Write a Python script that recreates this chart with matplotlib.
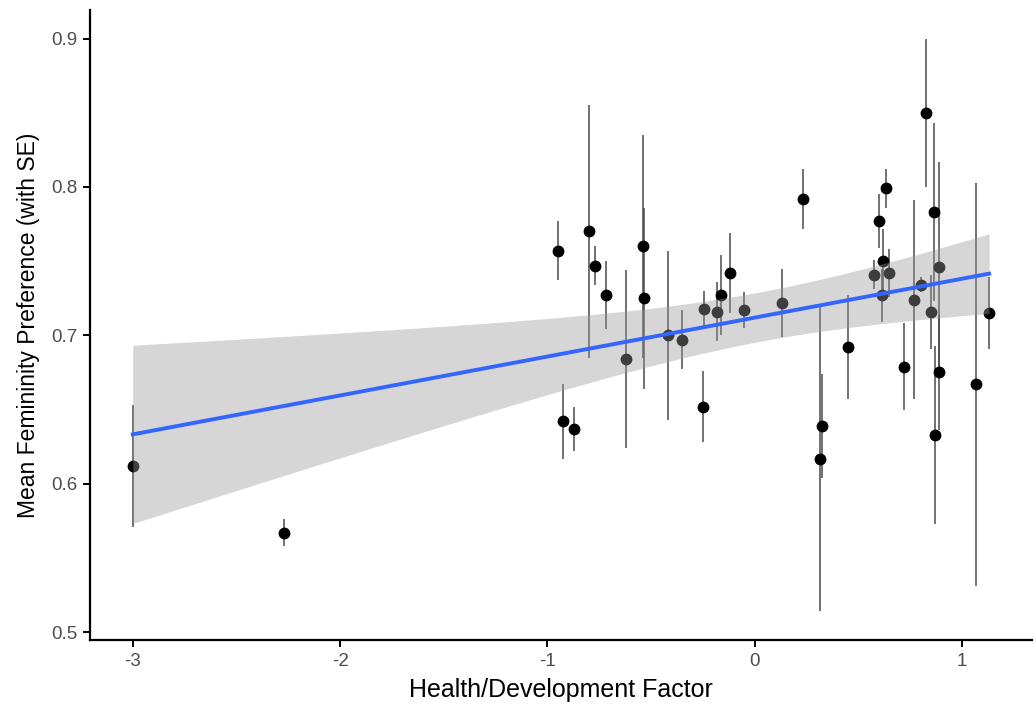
import matplotlib.pyplot as plt
import numpy as np

# health/development factor score per country
health = [-3.00, -2.27, -0.95, -0.80, -0.77, -0.72, -0.54, -0.535, -0.62, -0.42,
          -0.35, -0.925, -0.87, -0.25, -0.245, -0.18, -0.165, -0.12, -0.05, 0.13,
          0.23, 0.825, 0.635, 0.60, 0.62, 0.575, 0.645, 0.615, 0.865, 0.887,
          0.887, 0.77, 0.80, 0.85, 0.867, 1.065, 1.13, 0.45, 0.72, 0.325, 0.313]
# mean femininity preference
pref = [0.612, 0.567, 0.757, 0.770, 0.747, 0.727, 0.760, 0.725, 0.684, 0.700,
        0.697, 0.642, 0.637, 0.652, 0.718, 0.716, 0.727, 0.742, 0.717, 0.722,
        0.792, 0.850, 0.799, 0.777, 0.750, 0.741, 0.742, 0.727, 0.783, 0.746,
        0.675, 0.724, 0.734, 0.716, 0.633, 0.667, 0.715, 0.692, 0.679, 0.639, 0.617]
# standard errors
se = [0.041, 0.009, 0.020, 0.085, 0.013, 0.023, 0.075, 0.061, 0.060, 0.057,
      0.020, 0.025, 0.015, 0.024, 0.012, 0.020, 0.027, 0.027, 0.012, 0.023,
      0.020, 0.050, 0.013, 0.018, 0.022, 0.010, 0.016, 0.018, 0.060, 0.071,
      0.039, 0.067, 0.005, 0.025, 0.060, 0.136, 0.024, 0.035, 0.029, 0.035, 0.103]

x = np.array(health)
y = np.array(pref)

# linear fit with 95% confidence band (like geom_smooth(method="lm"))
n = len(x)
b1, b0 = np.polyfit(x, y, 1)
resid = y - (b0 + b1 * x)
s = np.sqrt(np.sum(resid ** 2) / (n - 2))
xs = np.linspace(x.min(), x.max(), 200)
ys = b0 + b1 * xs
tcrit = 2.0227  # t(0.975, df=39)
band = tcrit * s * np.sqrt(1 / n + (xs - x.mean()) ** 2 / np.sum((x - x.mean()) ** 2))

plt.rcParams['font.family'] = ['Liberation Sans', 'DejaVu Sans']

fig = plt.figure(figsize=(10.34, 7.08), dpi=100)
ax = fig.add_axes([0.087, 0.096, 0.911, 0.89])

ax.errorbar(x, y, yerr=se, fmt='none', ecolor='#4a4a4a', elinewidth=1.1, zorder=1)
ax.plot(x, y, 'o', color='black', markersize=7.5, zorder=2)
ax.fill_between(xs, ys - band, ys + band, color='#999999', alpha=0.4, lw=0, zorder=3)
ax.plot(xs, ys, color='#3366FF', lw=2.8, zorder=4)

xr = x.max() - x.min()
lo = (y - np.array(se)).min()
hi = (y + np.array(se)).max()
yr = hi - lo
ax.set_xlim(x.min() - 0.05 * xr, x.max() + 0.05 * xr)
ax.set_ylim(lo - 0.05 * yr, hi + 0.05 * yr)
ax.set_xticks([-3, -2, -1, 0, 1])
ax.set_yticks([0.5, 0.6, 0.7, 0.8, 0.9])
ax.set_xticklabels(['-3', '-2', '-1', '0', '1'])
ax.set_yticklabels(['0.5', '0.6', '0.7', '0.8', '0.9'])

for side in ['top', 'right']:
    ax.spines[side].set_visible(False)
for side in ['left', 'bottom']:
    ax.spines[side].set_linewidth(1.6)
ax.tick_params(length=5, width=1.4, colors='black', labelcolor='#4d4d4d', labelsize=13.5, pad=4)

ax.set_xlabel('Health/Development Factor', fontsize=18, labelpad=6)
ax.set_ylabel('Mean Femininity Preference (with SE)', fontsize=16.5, labelpad=8)

plt.savefig('out.png', dpi=100)
